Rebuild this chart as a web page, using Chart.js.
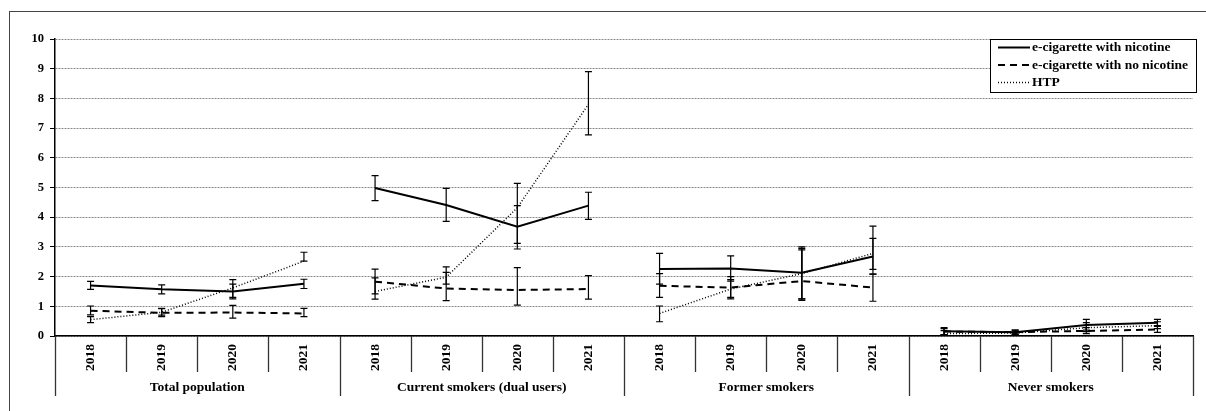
<!DOCTYPE html>
<html>
<head>
<meta charset="utf-8">
<script src="https://cdn.jsdelivr.net/npm/chart.js@4"></script>
<style>
  html, body { margin: 0; padding: 0; background: #fff; overflow: hidden; }
  #wrap { position: relative; width: 1206px; height: 411px; }
  #frame { position: absolute; left: 9px; top: 11px; width: 1400px; height: 600px;
           border-left: 1.5px solid #444; border-top: 1.5px solid #444; }
  #holder { position: absolute; left: 0; top: 0; width: 1206px; height: 411px; }
</style>
</head>
<body>
<div id="wrap">
  <div id="frame"></div>
  <div id="holder"><canvas id="chart"></canvas></div>
</div>
<script>
var groups = ['Total population', 'Current smokers (dual users)', 'Former smokers', 'Never smokers'];
var years = ['2018', '2019', '2020', '2021'];

// e-cigarette with nicotine
var nicotine   = [1.70, 1.57, 1.50, 1.76,  4.98, 4.41, 3.68, 4.39,  2.26, 2.27, 2.13, 2.68,  0.16, 0.13, 0.37, 0.45];
var nicotineLo = [1.57, 1.42, 1.25, 1.60,  4.56, 3.86, 2.93, 3.93,  1.75, 1.85, 1.25, 2.08,  0.05, 0.07, 0.20, 0.35];
var nicotineHi = [1.84, 1.72, 1.75, 1.91,  5.40, 4.97, 4.39, 4.84,  2.78, 2.70, 3.00, 3.29,  0.28, 0.20, 0.56, 0.56];

// e-cigarette with no nicotine
var noNicotine   = [0.85, 0.78, 0.79, 0.76,  1.83, 1.60, 1.55, 1.58,  1.69, 1.63, 1.85, 1.63,  0.15, 0.13, 0.17, 0.22];
var noNicotineLo = [0.71, 0.65, 0.60, 0.65,  1.42, 1.19, 1.04, 1.24,  1.30, 1.25, 1.20, 1.17,  0.05, 0.06, 0.08, 0.12];
var noNicotineHi = [1.01, 0.93, 1.03, 0.93,  2.25, 2.14, 2.30, 2.03,  2.10, 2.00, 2.95, 2.08,  0.25, 0.20, 0.28, 0.32];

// HTP
var htp   = [0.55, 0.80, 1.62, 2.52,  1.50, 1.98, 4.32, 7.80,  0.76, 1.58, 2.10, 2.78,  0.08, 0.10, 0.28, 0.35];
var htpLo = [0.45, 0.70, 1.30, 2.52,  1.24, 1.75, 3.12, 6.77,  0.48, 1.30, 1.25, 2.24,  0.02, 0.05, 0.15, 0.25];
var htpHi = [0.65, 0.92, 1.90, 2.82,  1.96, 2.33, 5.14, 8.90,  1.01, 1.90, 2.90, 3.70,  0.18, 0.16, 0.45, 0.48];

var yTicks = [0, 1, 2, 3, 4, 5, 6, 7, 8, 9, 10];

var labels = [];
for (var g = 0; g < groups.length; g++) {
  for (var y = 0; y < years.length; y++) labels.push(years[y]);
}

var serif = '"Liberation Serif", "Times New Roman", serif';

// no line between the last year of a group and the first of the next
var gap = function(ctx, col) {
  return ctx.p0DataIndex % 4 === 3 ? 'rgba(0,0,0,0)' : col;
};

function mkSet(name, data, lo, hi, width, dash) {
  return {
    label: name,
    data: data,
    lo: lo,
    hi: hi,
    borderColor: '#000',
    borderWidth: width,
    borderDash: dash,
    pointRadius: 0,
    fill: false,
    tension: 0,
    segment: { borderColor: function(ctx) { return gap(ctx, '#000'); } }
  };
}

var errorBars = {
  id: 'errorBars',
  afterDatasetsDraw: function(chart) {
    var ctx = chart.ctx;
    var ys = chart.scales.y;
    ctx.save();
    ctx.strokeStyle = '#000';
    ctx.lineWidth = 1.2;
    ctx.setLineDash([]);
    chart.data.datasets.forEach(function(ds, i) {
      var meta = chart.getDatasetMeta(i);
      meta.data.forEach(function(pt, j) {
        var x = pt.x;
        var top = ys.getPixelForValue(ds.hi[j]);
        var bot = ys.getPixelForValue(ds.lo[j]);
        ctx.beginPath();
        ctx.moveTo(x, top); ctx.lineTo(x, bot);
        ctx.moveTo(x - 3.5, top); ctx.lineTo(x + 3.5, top);
        ctx.moveTo(x - 3.5, bot); ctx.lineTo(x + 3.5, bot);
        ctx.stroke();
      });
    });
    ctx.restore();
  }
};

var groupAxis = {
  id: 'groupAxis',
  afterDraw: function(chart) {
    var ctx = chart.ctx;
    var xs = chart.scales.x;
    var base = chart.chartArea.bottom;
    ctx.save();
    ctx.strokeStyle = '#333';
    ctx.lineWidth = 1.3;
    for (var k = 0; k <= labels.length; k++) {
      var x = Math.round(xs.getPixelForValue(k - 0.5)) + 0.5;
      var end = (k % 4 === 0) ? base + 60 : base + 36;
      ctx.beginPath();
      ctx.moveTo(x, base); ctx.lineTo(x, end);
      ctx.stroke();
    }
    ctx.fillStyle = '#000';
    ctx.font = 'bold 13.5px ' + serif;
    ctx.textAlign = 'center';
    ctx.textBaseline = 'middle';
    for (var g = 0; g < groups.length; g++) {
      var a = xs.getPixelForValue(g * 4 - 0.5);
      var b = xs.getPixelForValue(g * 4 + 3.5);
      ctx.fillText(groups[g], (a + b) / 2, base + 52);
    }

    // legend box
    var lx = 990, ly = 39, lw = 206, lh = 53;
    ctx.fillStyle = '#fff';
    ctx.fillRect(lx, ly, lw, lh);
    ctx.strokeStyle = '#000';
    ctx.lineWidth = 1;
    ctx.strokeRect(lx + 0.5, ly + 0.5, lw, lh);
    ctx.font = 'bold 13.5px ' + serif;
    ctx.textAlign = 'left';
    chart.data.datasets.forEach(function(ds, i) {
      var ry = ly + 8.5 + i * 17.5;
      ctx.beginPath();
      ctx.lineWidth = ds.borderWidth;
      ctx.setLineDash(ds.borderDash);
      ctx.moveTo(998, ry); ctx.lineTo(1030, ry);
      ctx.stroke();
      ctx.setLineDash([]);
      ctx.fillStyle = '#000';
      ctx.fillText(ds.label, 1032, ry + 0.5);
    });
    ctx.restore();
  }
};

new Chart(document.getElementById('chart'), {
  type: 'line',
  data: {
    labels: labels,
    datasets: [
      mkSet('e-cigarette with nicotine', nicotine, nicotineLo, nicotineHi, 2, []),
      mkSet('e-cigarette with no nicotine', noNicotine, noNicotineLo, noNicotineHi, 2, [7, 5]),
      mkSet('HTP', htp, htpLo, htpHi, 1.5, [1, 2])
    ]
  },
  options: {
    responsive: true,
    maintainAspectRatio: false,
    animation: false,
    layout: { padding: { left: 0, top: 39, right: 13, bottom: 0 } },
    plugins: { legend: { display: false }, tooltip: { enabled: false } },
    scales: {
      x: {
        offset: true,
        grid: { display: false },
        border: { display: true, color: '#000', width: 1.5 },
        ticks: {
          autoSkip: false, minRotation: 90, maxRotation: 90, padding: 0,
          color: '#000', font: { family: serif, size: 13.5, weight: 'bold' }
        },
        afterFit: function(scale) { scale.height = 75; }
      },
      y: {
        min: 0, max: 10,
        afterBuildTicks: function(scale) {
          scale.ticks = yTicks.map(function(v) { return { value: v }; });
        },
        grid: { color: '#8a8a8a', lineWidth: 1, tickLength: 5, tickColor: '#000' },
        border: { display: true, color: '#000', width: 1.5, dash: [2, 1] },
        ticks: { padding: 6, color: '#000', font: { family: serif, size: 12.5, weight: 'bold' } },
        afterFit: function(scale) { scale.width = 55; }
      }
    }
  },
  plugins: [errorBars, groupAxis]
});
</script>
</body>
</html>
